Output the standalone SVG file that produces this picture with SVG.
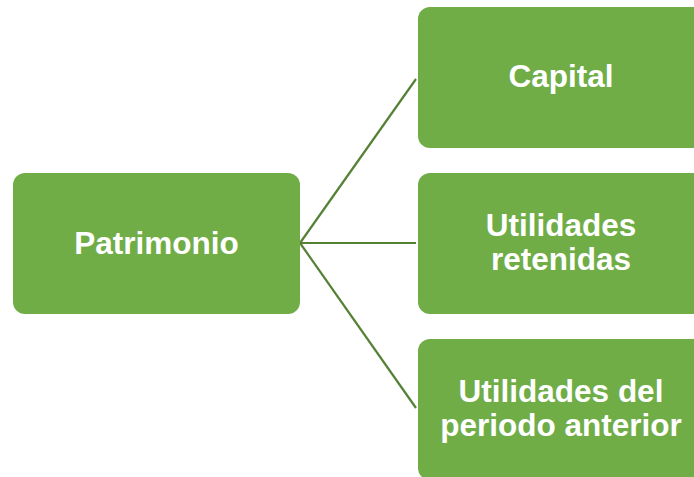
<svg xmlns="http://www.w3.org/2000/svg" width="694" height="477" viewBox="0 0 694 477">
<style>
.box{fill:#70AD47;}
.t{fill:#fff;font-family:"Liberation Sans",Arial,sans-serif;font-weight:bold;font-size:31.5px;text-anchor:middle;}
.c{stroke:#548235;stroke-width:2.2;fill:none;}
</style>
<rect width="694" height="477" fill="#fff"/>
<g id="connectors">
<line class="c" x1="300" y1="243" x2="416" y2="79"/>
<line class="c" x1="300" y1="243" x2="416" y2="243"/>
<line class="c" x1="300" y1="243" x2="416" y2="408"/>
</g>
<g id="patrimonio">
<rect class="box" x="13" y="173" width="287" height="141" rx="12"/>
<text class="t" x="156.5" y="254">Patrimonio</text>
</g>
<g id="capital">
<rect class="box" x="418" y="7" width="287" height="141" rx="12"/>
<text class="t" x="561" y="87">Capital</text>
</g>
<g id="utilidades-retenidas">
<rect class="box" x="418" y="173" width="287" height="141" rx="12"/>
<text class="t" x="561" y="236">Utilidades</text>
<text class="t" x="561" y="270">retenidas</text>
</g>
<g id="utilidades-periodo">
<rect class="box" x="418" y="339" width="287" height="141" rx="12"/>
<text class="t" x="561" y="402">Utilidades del</text>
<text class="t" x="561" y="436">periodo anterior</text>
</g>
</svg>
